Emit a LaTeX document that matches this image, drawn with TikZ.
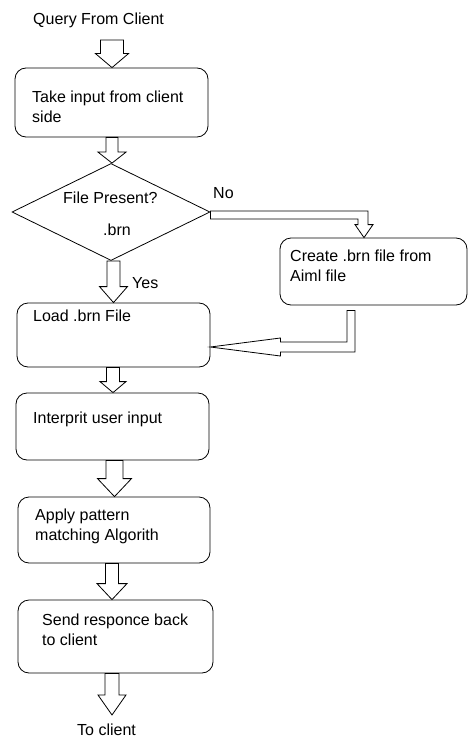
\documentclass[tikz,border=0pt]{standalone}
\usepackage{fontspec}
\setmainfont{Liberation Sans}
\usetikzlibrary{shapes.geometric,calc}
\tikzset{
  box/.style={draw, rounded corners=11pt, line width=0.8pt, inner sep=0pt},
  lbl/.style={inner sep=0pt, anchor=base west, align=left, font=\fontsize{16}{20}\selectfont},
  blk/.style={draw, fill=white, line width=0.8pt, line join=miter},
  dec/.style={draw, diamond, line width=0.8pt, inner sep=0pt},
}
% dx, from, to, shaft half width, head half width, head length
\newcommand\blkdown[6]{%
  \draw[blk] let \p1=(#2), \p2=($(#3)+(#1,0)$) in
    (\x2-#4pt,\y1) -- (\x2+#4pt,\y1) -- (\x2+#4pt,\y2+#6pt) -- (\x2+#5pt,\y2+#6pt)
    -- (\x2,\y2) -- (\x2-#5pt,\y2+#6pt) -- (\x2-#4pt,\y2+#6pt) -- cycle;}
\begin{document}
\begin{tikzpicture}[x=1pt,y=1pt]
\useasboundingbox (0,0) rectangle (468,-738);

% texts outside boxes
\node[lbl] (q) at (33,-25) {Query From Client};
\coordinate (qa) at (112,-40);
\node[lbl] (tc) at (77,-735) {To client};
\coordinate (tca) at (112,-715);

% boxes (two-line labels are placed by the baseline of their last line)
\node[box, minimum width=193pt, minimum height=69pt] (b1) at (111.5,-102.5) {};
\node[lbl] (t1) at (32,-123) {Take input from client\\side};

\node[dec, minimum width=198pt, minimum height=97pt] (dia) at (111,-212) {};
\node[lbl] (td1) at (63,-203) {File Present?};
\node[lbl] (td2) at (103,-235) {.brn};
\node[lbl] (no) at (213,-198) {No};
\node[lbl] (yes) at (132,-288) {Yes};

\node[box, minimum width=187pt, minimum height=67pt] (create) at (373.5,-271.5) {};
\node[lbl] (tcr) at (290,-281) {Create .brn file from\\Aiml file};

\node[box, minimum width=193pt, minimum height=64pt] (load) at (113.5,-335) {};
\node[lbl] (tl) at (33,-321) {Load .brn File};

\node[box, minimum width=193pt, minimum height=67pt] (interp) at (112.5,-426.5) {};
\node[lbl] (ti) at (33,-423) {Interprit user input};

\node[box, minimum width=192pt, minimum height=66pt] (apply) at (114,-530) {};
\node[lbl] (ta) at (35,-540) {Apply pattern\\matching Algorith};

\node[box, minimum width=195pt, minimum height=73pt] (send) at (115.5,-636.5) {};
\node[lbl] (ts) at (42,-645) {Send responce back\\to client};

% block arrows
\blkdown{0.5}{qa}{b1.north}{11.5}{16.5}{14}
\blkdown{1}{b1.south}{dia.north}{6}{14}{11}
\blkdown{0}{dia.south}{load.north}{6.5}{14}{16}
\blkdown{0.5}{load.south}{interp.north}{6.5}{13}{11}
\blkdown{0.5}{interp.south}{apply.north}{8.5}{17}{18}
\blkdown{-3.5}{apply.south}{send.north}{6.5}{15}{16}
\blkdown{0}{send.south}{tca}{7}{14}{20}

% No branch
\draw[blk] let \p1=(dia.east), \p2=(create.north) in
  (\x1,\y1+1pt) -- (\x2-5.5pt,\y1+1pt) -- (\x2-5.5pt,\y2+13pt) -- (\x2-0.5pt,\y2+13pt)
  -- (\x2-9.5pt,\y2) -- (\x2-18.5pt,\y2+13pt) -- (\x2-15.5pt,\y2+13pt)
  -- (\x2-15.5pt,\y1-7pt) -- (\x1,\y1-7pt) -- cycle;

% return from create to load
\draw[blk] let \p1=(create.south), \p2=(load.east) in
  (\x1-26.5pt,\y1-5pt) -- (\x1-18.5pt,\y1-5pt) -- (\x1-18.5pt,\y2-17pt)
  -- (\x2+70pt,\y2-17pt) -- (\x2+70pt,\y2-21pt) -- (\x2,\y2-12pt)
  -- (\x2+70pt,\y2-3pt) -- (\x2+70pt,\y2-7pt) -- (\x1-26.5pt,\y2-7pt) -- cycle;
\end{tikzpicture}
\end{document}
